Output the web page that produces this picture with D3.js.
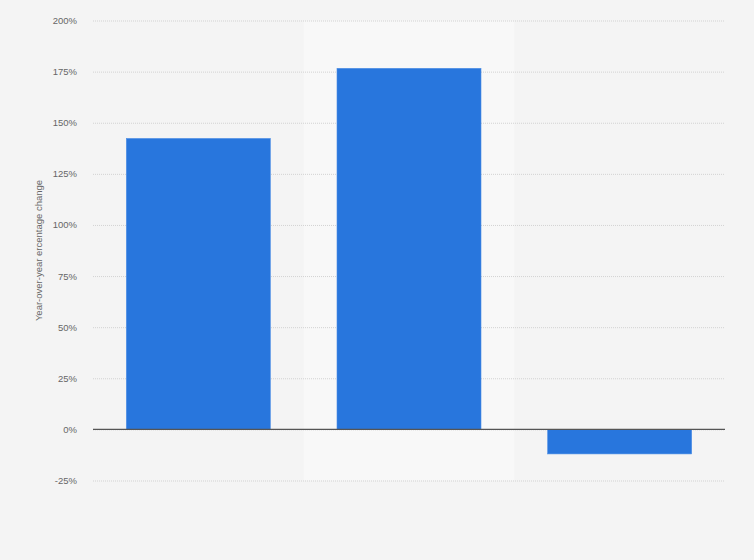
<!DOCTYPE html>
<html><head><meta charset="utf-8">
<script src="https://cdn.jsdelivr.net/npm/d3@7/dist/d3.min.js"></script>
<style>
html,body{margin:0;padding:0;background:#f4f4f4;}
svg{display:block;font-family:"Liberation Sans",Arial,sans-serif;}
</style></head>
<body>
<svg id="chart" width="754" height="560"></svg>
<script>
const categories = ["A", "B", "C"];
const values = [142.3, 176.6, -12.0];
const yTicks = [-25, 0, 25, 50, 75, 100, 125, 150, 175, 200];
const yLabel = "Year-over-year ercentage change";
const highlighted = "B";

const svg = d3.select("#chart");
const W = 754, H = 560;
const m = {left: 93, right: 29, top: 20.5, bottom: 79.5};

svg.append("rect").attr("width", W).attr("height", H).attr("fill", "#f4f4f4");

const x = d3.scaleBand().domain(categories).range([m.left, W - m.right]).paddingInner(0).paddingOuter(0);
const y = d3.scaleLinear().domain([-25, 200]).range([H - m.bottom, m.top]);

// highlight band
svg.append("rect")
  .attr("x", x(highlighted)).attr("width", x.bandwidth())
  .attr("y", y(200)).attr("height", y(-25) - y(200))
  .attr("fill", "#f8f8f8");

// gridlines
const yAxis = d3.axisLeft(y).tickValues(yTicks).tickSize(-(W - m.left - m.right)).tickPadding(16)
  .tickFormat(d => d + "%");
const g = svg.append("g").attr("transform", `translate(${m.left},0)`).call(yAxis);
g.select(".domain").remove();
g.selectAll(".tick line").attr("stroke", "#d2d2d2").attr("stroke-dasharray", "1,1").attr("stroke-width", 1);
g.selectAll(".tick text").attr("fill", "#666").attr("font-size", 9.5).attr("x", -16);

// bars
const bw = 144;
svg.append("g").selectAll("rect").data(categories).join("rect")
  .attr("x", (d) => x(d) + (x.bandwidth() - bw) / 2)
  .attr("width", bw)
  .attr("y", (d, i) => y(Math.max(0, values[i])))
  .attr("height", (d, i) => Math.abs(y(values[i]) - y(0)))
  .attr("fill", "#2876dd")
  .attr("stroke", "#4c8de4").attr("stroke-width", 0.6);

// zero line
svg.append("line")
  .attr("x1", m.left).attr("x2", W - m.right)
  .attr("y1", y(0)).attr("y2", y(0))
  .attr("stroke", "#555").attr("stroke-width", 1.2);

// y label
svg.append("text")
  .attr("transform", `translate(42,${(y(200) + y(-25)) / 2}) rotate(-90)`)
  .attr("text-anchor", "middle")
  .attr("fill", "#666").attr("font-size", 9.5)
  .text(yLabel);
</script>
</body></html>
